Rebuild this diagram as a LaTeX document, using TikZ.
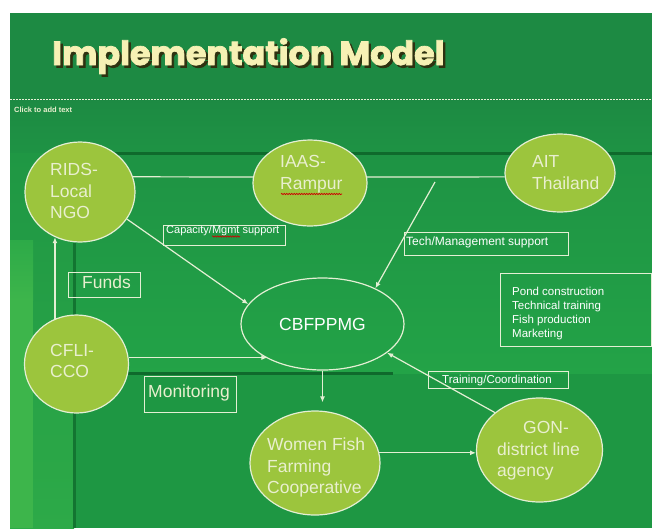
\documentclass[tikz,border=0pt]{standalone}
\usepackage{fontspec}
\setmainfont{Liberation Sans}
\newfontfamily\titlefont{Poppins}[BoldFeatures={FakeBold=2.2}]
\usetikzlibrary{shapes.geometric,arrows.meta,decorations.pathmorphing}
\definecolor{bgtop}{HTML}{1D8A43}
\definecolor{bgmidA}{HTML}{1E9344}
\definecolor{bgmidB}{HTML}{23A347}
\definecolor{bgleftA}{HTML}{1F9744}
\definecolor{bgleftB}{HTML}{2DAA48}
\definecolor{bgstrip}{HTML}{3DB54B}
\definecolor{bglow}{HTML}{1E9743}
\definecolor{darkline}{HTML}{0F6A2C}
\definecolor{circfill}{HTML}{9CC53D}
\definecolor{edgec}{HTML}{E4EFD4}
\definecolor{txtc}{HTML}{E9EFCF}
\definecolor{titlec}{HTML}{F6F1B4}
\definecolor{shadowc}{HTML}{2E3210}
\newcommand{\titletext}{Implementation Model}
\begin{document}
\begin{tikzpicture}[x=1pt,y=-1pt,
  circ/.style={ellipse, draw=edgec, line width=1.2pt, fill=circfill, inner sep=0pt},
  ctext/.style={anchor=north west, inner sep=0pt, align=left, text=txtc, font=\fontsize{17.5}{21.5}\selectfont},
  boxc/.style={rectangle, draw=edgec, line width=1pt, inner sep=0pt},
  btext/.style={anchor=base west, inner sep=0pt, text=white, font=\fontsize{11.5}{14}\selectfont},
  bigbtext/.style={anchor=base west, inner sep=0pt, text=txtc, font=\fontsize{17.5}{21}\selectfont},
  ln/.style={draw=edgec, line width=1.2pt},
  arr/.style={draw=edgec, line width=1.2pt, -{Latex[length=6pt,width=5pt]}},
  squig/.style={draw=red!80!black, line width=0.7pt, decorate, decoration={snake, amplitude=0.7pt, segment length=2.5pt}}
]
\useasboundingbox (0,0) rectangle (652,528);
% background
\fill[white] (0,0) rectangle (652,528);
\fill[bgtop] (10,13) rectangle (652,528);
\shade[top color=bgtop, bottom color=bgmidA] (10,99) rectangle (652,153);
\shade[top color=bgleftA, bottom color=bgleftB] (10,153) rectangle (74,528);
\shade[top color=bgleftB, bottom color=bgstrip] (10,240) rectangle (33,300);
\fill[bgstrip] (10,300) rectangle (33,528);
\shade[top color=bgmidA, bottom color=bgmidB] (74,153) rectangle (652,374);
\fill[bglow] (74,374) rectangle (652,528);
\fill[darkline] (74,152) rectangle (652,155);
\fill[darkline!80!bgmidB] (73,243) rectangle (76,528);
\fill[darkline] (74,372) rectangle (393,375);
% title (with drop shadow in the same node)
\node[anchor=base west, inner sep=0pt, font=\titlefont\bfseries\fontsize{33.4}{38}\selectfont] (title) at (52,65)
  {\makebox[0pt][l]{\hspace*{2.5pt}\raisebox{-2.5pt}{\textcolor{shadowc}{\titletext}}}\textcolor{titlec}{\titletext}};
\draw[edgec, line width=1pt, dash pattern=on 1.5pt off 1.5pt] (10,99) -- (652,99);
\node[anchor=base west, inner sep=0pt, text=txtc, font=\bfseries\fontsize{7.5}{9}\selectfont] (click) at (14,112) {Click to add text};
% circles
\node[circ, minimum width=110pt, minimum height=100pt] (rids) at (80,192) {};
\node[circ, minimum width=114pt, minimum height=86pt] (iaas) at (310,183) {};
\node[circ, minimum width=110pt, minimum height=78pt] (ait) at (560,173) {};
\node[circ, minimum width=104pt, minimum height=98pt] (cfli) at (76.5,364) {};
\node[circ, minimum width=130pt, minimum height=104pt] (women) at (315,463) {};
\node[circ, minimum width=126pt, minimum height=104pt] (gon) at (539.5,450) {};
\node[ellipse, draw=edgec, line width=1.2pt, minimum width=163pt, minimum height=92pt, inner sep=0pt,
      text=white, font=\fontsize{17.5}{21}\selectfont] (cb) at (322.5,324) {CBFPPMG};
% circle texts
\node[ctext] (ridsT) at (50,163.5) {RIDS-\\Local\\NGO};
\node[ctext] (iaasT) at (280,155.5) {IAAS-\\Rampur};
\node[ctext] (aitT) at (532,155.5) {AIT\\Thailand};
\node[ctext, font=\fontsize{17.5}{20.5}\selectfont] (cfliT) at (50,344.5) {CFLI-\\CCO};
\node[ctext] (womenT) at (267,438) {Women Fish\\Farming\\Cooperative};
\node[ctext] (gonT) at (497,421.5) {\hspace*{26pt}GON-\\district line\\agency};
\draw[squig] (281,194) -- (342,194);
% boxes
\node[boxc, minimum width=122pt, minimum height=20pt] (capbox) at (224,235) {};
\node[btext, font=\fontsize{11}{13}\selectfont] (capT) at (166,233.5) {Capacity/Mgmt support};
\draw[squig, line width=0.6pt] (212,236.5) -- (240,236.5);
\node[boxc, minimum width=72pt, minimum height=25pt] (fundsbox) at (104,284.5) {};
\node[bigbtext] (fundsT) at (82,288.5) {Funds};
\node[boxc, minimum width=164pt, minimum height=23pt] (techbox) at (486,243.5) {};
\node[btext, font=\fontsize{12}{14}\selectfont] (techT) at (406,245) {Tech/Management support};
\node[boxc, minimum width=151pt, minimum height=73pt] (listbox) at (575.5,309.5) {};
\node[anchor=north west, inner sep=0pt, align=left, text=white, font=\fontsize{11.5}{14}\selectfont] (listT) at (512,286.8) {Pond construction\\Technical training\\Fish production\\Marketing};
\node[boxc, minimum width=92pt, minimum height=36pt] (monbox) at (190,394) {};
\node[bigbtext] (monT) at (148,397) {Monitoring};
\node[boxc, minimum width=140pt, minimum height=17pt] (trainbox) at (498,379.5) {};
\node[btext] (trainT) at (442,383.5) {Training/Coordination};
% connectors
\draw[ln] (rids.16) -- (iaas.174);
\draw[ln] (iaas.6) -- (ait.184);
\coordinate (techstart) at (435,182);
\draw[arr] (techstart) -- (cb.34);
\draw[arr] (rids.-30) -- (cb.165);
\draw[arr] (cfli.116 -| rids.241) -- (rids.241);
\draw[arr] (cfli.7) -- (cfli.7 -| cb.212);
\draw[arr, shorten >=8pt] (cb.south) -- (cb.south |- women.north);
\draw[arr] (women.9) -- (women.9 -| gon.183);
\draw[arr] (gon.140) -- (cb.-24);
\end{tikzpicture}
\end{document}
